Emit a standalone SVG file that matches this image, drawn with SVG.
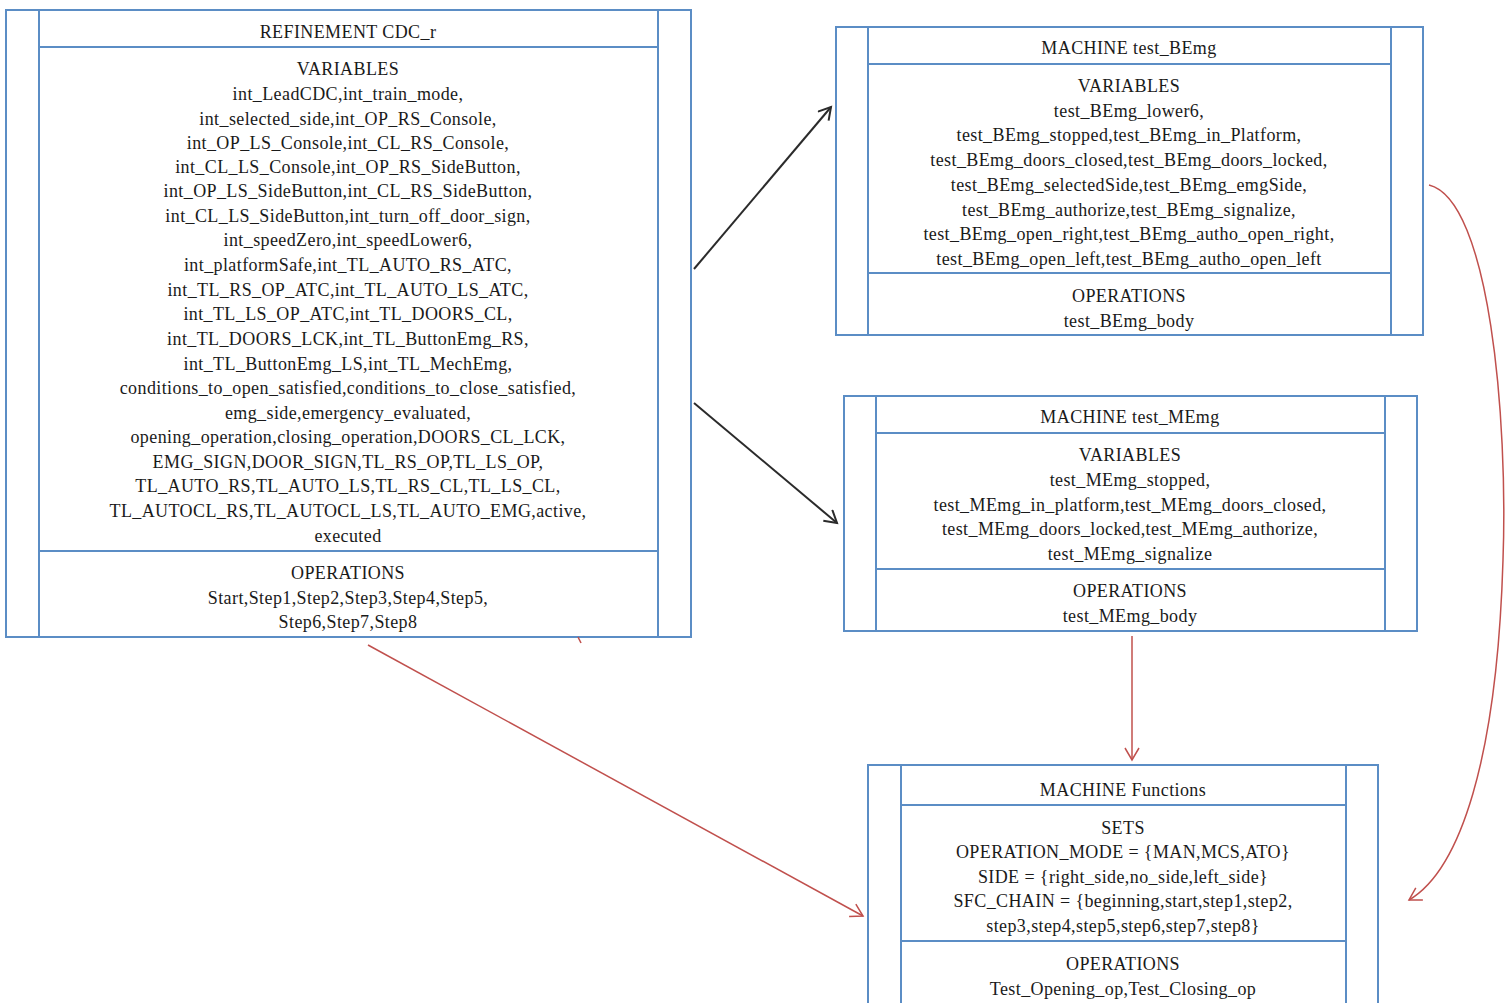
<svg xmlns="http://www.w3.org/2000/svg" width="1505" height="1003" viewBox="0 0 1505 1003">
<style>
.box{fill:#fff;stroke:#5B8DC5;stroke-width:2}
.ln{stroke:#5B8DC5;stroke-width:2;fill:none}
text{font-family:"Liberation Serif","Times New Roman",serif;font-size:18px;letter-spacing:0.4px;fill:#1a1a1a;text-anchor:middle}
.blk{stroke:#2b2b2b;stroke-width:2;fill:none}
.red{stroke:#C0504D;stroke-width:1.5;fill:none}
</style>
<defs>
<marker id="ab" markerUnits="userSpaceOnUse" markerWidth="20" markerHeight="20" refX="14" refY="8" orient="auto"><path d="M2,1 L14,8 L2,15" fill="none" stroke="#2b2b2b" stroke-width="2"/></marker>
<marker id="ar" markerUnits="userSpaceOnUse" markerWidth="20" markerHeight="20" refX="14" refY="8" orient="auto"><path d="M2,1 L14,8 L2,15" fill="none" stroke="#C0504D" stroke-width="1.5"/></marker>
</defs>
<rect width="1505" height="1003" fill="#fff"/>
<g id="node-cdc">
<rect class="box" x="6" y="10" width="685" height="627"/>
<line class="ln" x1="39" y1="10" x2="39" y2="637"/>
<line class="ln" x1="658" y1="10" x2="658" y2="637"/>
<line class="ln" x1="39" y1="47" x2="658" y2="47"/>
<line class="ln" x1="39" y1="551" x2="658" y2="551"/>
<text x="348" y="38">REFINEMENT CDC_r</text>
<text x="348" y="75">VARIABLES</text>
<text x="348" y="100">int_LeadCDC,int_train_mode,</text>
<text x="348" y="125">int_selected_side,int_OP_RS_Console,</text>
<text x="348" y="149">int_OP_LS_Console,int_CL_RS_Console,</text>
<text x="348" y="173">int_CL_LS_Console,int_OP_RS_SideButton,</text>
<text x="348" y="197">int_OP_LS_SideButton,int_CL_RS_SideButton,</text>
<text x="348" y="222">int_CL_LS_SideButton,int_turn_off_door_sign,</text>
<text x="348" y="246">int_speedZero,int_speedLower6,</text>
<text x="348" y="271">int_platformSafe,int_TL_AUTO_RS_ATC,</text>
<text x="348" y="296">int_TL_RS_OP_ATC,int_TL_AUTO_LS_ATC,</text>
<text x="348" y="320">int_TL_LS_OP_ATC,int_TL_DOORS_CL,</text>
<text x="348" y="345">int_TL_DOORS_LCK,int_TL_ButtonEmg_RS,</text>
<text x="348" y="370">int_TL_ButtonEmg_LS,int_TL_MechEmg,</text>
<text x="348" y="394">conditions_to_open_satisfied,conditions_to_close_satisfied,</text>
<text x="348" y="419">emg_side,emergency_evaluated,</text>
<text x="348" y="443">opening_operation,closing_operation,DOORS_CL_LCK,</text>
<text x="348" y="468">EMG_SIGN,DOOR_SIGN,TL_RS_OP,TL_LS_OP,</text>
<text x="348" y="492">TL_AUTO_RS,TL_AUTO_LS,TL_RS_CL,TL_LS_CL,</text>
<text x="348" y="517">TL_AUTOCL_RS,TL_AUTOCL_LS,TL_AUTO_EMG,active,</text>
<text x="348" y="542">executed</text>
<text x="348" y="579">OPERATIONS</text>
<text x="348" y="604">Start,Step1,Step2,Step3,Step4,Step5,</text>
<text x="348" y="628">Step6,Step7,Step8</text>
</g>
<g id="node-bemg">
<rect class="box" x="836" y="27" width="587" height="308"/>
<line class="ln" x1="868" y1="27" x2="868" y2="335"/>
<line class="ln" x1="1391" y1="27" x2="1391" y2="335"/>
<line class="ln" x1="868" y1="64" x2="1391" y2="64"/>
<line class="ln" x1="868" y1="273" x2="1391" y2="273"/>
<text x="1129" y="54">MACHINE test_BEmg</text>
<text x="1129" y="92">VARIABLES</text>
<text x="1129" y="117">test_BEmg_lower6,</text>
<text x="1129" y="141">test_BEmg_stopped,test_BEmg_in_Platform,</text>
<text x="1129" y="166">test_BEmg_doors_closed,test_BEmg_doors_locked,</text>
<text x="1129" y="191">test_BEmg_selectedSide,test_BEmg_emgSide,</text>
<text x="1129" y="216">test_BEmg_authorize,test_BEmg_signalize,</text>
<text x="1129" y="240">test_BEmg_open_right,test_BEmg_autho_open_right,</text>
<text x="1129" y="265">test_BEmg_open_left,test_BEmg_autho_open_left</text>
<text x="1129" y="302">OPERATIONS</text>
<text x="1129" y="327">test_BEmg_body</text>
</g>
<g id="node-memg">
<rect class="box" x="844" y="396" width="573" height="235"/>
<line class="ln" x1="876" y1="396" x2="876" y2="631"/>
<line class="ln" x1="1385" y1="396" x2="1385" y2="631"/>
<line class="ln" x1="876" y1="433" x2="1385" y2="433"/>
<line class="ln" x1="876" y1="569" x2="1385" y2="569"/>
<text x="1130" y="423">MACHINE test_MEmg</text>
<text x="1130" y="461">VARIABLES</text>
<text x="1130" y="486">test_MEmg_stopped,</text>
<text x="1130" y="511">test_MEmg_in_platform,test_MEmg_doors_closed,</text>
<text x="1130" y="535">test_MEmg_doors_locked,test_MEmg_authorize,</text>
<text x="1130" y="560">test_MEmg_signalize</text>
<text x="1130" y="597">OPERATIONS</text>
<text x="1130" y="622">test_MEmg_body</text>
</g>
<g id="node-functions">
<rect class="box" x="868" y="765" width="510" height="250"/>
<line class="ln" x1="901" y1="765" x2="901" y2="1003"/>
<line class="ln" x1="1346" y1="765" x2="1346" y2="1003"/>
<line class="ln" x1="901" y1="805" x2="1346" y2="805"/>
<line class="ln" x1="901" y1="941" x2="1346" y2="941"/>
<text x="1123" y="796">MACHINE Functions</text>
<text x="1123" y="834">SETS</text>
<text x="1123" y="858">OPERATION_MODE = {MAN,MCS,ATO}</text>
<text x="1123" y="883">SIDE = {right_side,no_side,left_side}</text>
<text x="1123" y="907">SFC_CHAIN = {beginning,start,step1,step2,</text>
<text x="1123" y="932">step3,step4,step5,step6,step7,step8}</text>
<text x="1123" y="970">OPERATIONS</text>
<text x="1123" y="995">Test_Opening_op,Test_Closing_op</text>
</g>
<g id="connectors">
<line class="blk" x1="694" y1="269" x2="831" y2="107" marker-end="url(#ab)"/>
<line class="blk" x1="694" y1="403" x2="837" y2="523" marker-end="url(#ab)"/>
<line class="red" x1="1132" y1="636" x2="1132" y2="760" marker-end="url(#ar)"/>
<line class="red" x1="368" y1="645" x2="863" y2="916" marker-end="url(#ar)"/>
<path class="red" d="M1429,185 C1490,200 1508,420 1503,560 C1497,760 1460,870 1409,900" marker-end="url(#ar)"/>
<line class="red" x1="578" y1="637" x2="581" y2="643"/>
</g>
</svg>
